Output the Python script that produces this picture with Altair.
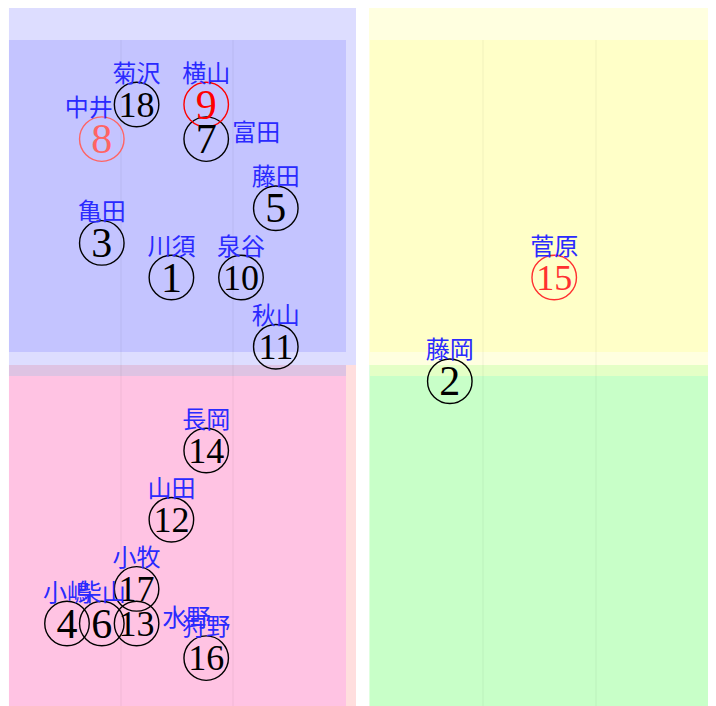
import altair as alt
import pandas as pd

# ---------------- data ----------------
nums = [1, 2, 3, 4, 5, 6, 7, 8, 9, 10, 11, 12, 13, 14, 15, 16, 17, 18]
names = ["川須", "藤岡", "亀田", "小嶋", "藤田", "柴山", "富田", "中井", "横山",
         "泉谷", "秋山", "山田", "水野", "長岡", "菅原", "狩野", "小牧", "菊沢"]
xs = [4, 12, 2, 1, 7, 2, 5, 2, 5, 6, 7, 4, 3, 5, 15, 5, 3, 3]
ys = [13, 10, 14, 3, 15, 3, 17, 17, 18, 13, 11, 6, 3, 8, 13, 2, 4, 18]
# highlight level: 0 normal, 1 red, 2 pale red, 3 medium red
levels = [0, 0, 0, 0, 0, 0, 0, 2, 1, 0, 0, 0, 0, 0, 3, 0, 0, 0]

# quadrant background regions (data units)
region_names = ["blue_light", "yellow_light", "pink_light", "green_light",
                "band_left", "band_right",
                "blue_dark", "yellow_dark", "pink_dark", "green_dark"]
region_x1 = [-0.667, 9.678, -0.667, 9.678, -0.667, 9.707, -0.667, 9.707, -0.667, 9.707]
region_x2 = [9.305, 20.0, 9.305, 20.0, 9.017, 19.419, 9.017, 19.419, 9.017, 19.419]
region_y1 = [21.0, 21.0, 10.471, 10.471, 10.471, 10.471, 19.864, 19.864, 10.153, 10.153]
region_y2 = [10.471, 10.471, 0.0, 0.0, 10.153, 10.153, 10.847, 10.847, 0.0, 0.0]
region_colors = ["#ddddff", "#ffffe0", "#ffdede", "#e0ffe0",
                 "#dec3e3", "#e4ffc6",
                 "#c4c4ff", "#ffffc8", "#ffc3e3", "#c8ffc8"]

grid_x = [2.552, 5.770, 12.954, 16.201]
grid_top = 19.864
grid_bottom = 0.0

right_names = ["富田", "水野"]
upper_left_names = ["中井"]

X_DOM = [-0.695, 19.419]
Y_DOM = [0.616, 20.789]

# ---------------- chart ----------------
xsc = alt.Scale(domain=X_DOM, nice=False, zero=False)
ysc = alt.Scale(domain=Y_DOM, nice=False, zero=False)

regions = pd.DataFrame({"name": region_names, "x": region_x1, "x2": region_x2,
                        "y": region_y1, "y2": region_y2})
rects = alt.Chart(regions).mark_rect(clip=True, strokeWidth=0).encode(
    x=alt.X("x:Q", scale=xsc, axis=None),
    x2="x2:Q",
    y=alt.Y("y:Q", scale=ysc, axis=None),
    y2="y2:Q",
    color=alt.Color("name:N", scale=alt.Scale(domain=region_names, range=region_colors),
                    legend=None),
)

grid_df = pd.DataFrame({"gx": grid_x, "gy": [grid_top] * len(grid_x),
                        "gy2": [grid_bottom] * len(grid_x)})
grid = alt.Chart(grid_df).mark_rule(color="black", opacity=0.06, strokeWidth=1,
                                    clip=True).encode(
    x=alt.X("gx:Q", scale=xsc, axis=None),
    y=alt.Y("gy:Q", scale=ysc, axis=None),
    y2="gy2:Q",
)

pts = pd.DataFrame({"num": nums, "name": names, "x": xs, "y": ys, "level": levels})
base = alt.Chart(pts).encode(
    x=alt.X("x:Q", scale=xsc, axis=None),
    y=alt.Y("y:Q", scale=ysc, axis=None),
)
level_color = alt.Color("level:N",
                        scale=alt.Scale(domain=[0, 1, 2, 3],
                                        range=["#000000", "#ff0000", "#ff6464", "#ff3030"]),
                        legend=None)

circles = base.mark_point(shape="circle", filled=False, size=1980, strokeWidth=1.4,
                          opacity=1).encode(color=level_color)

digits = base.transform_calculate(
    d="toString(datum.num)",
    big="datum.num < 10 ? 'one' : 'two'",
).mark_text(font="Liberation Serif", baseline="middle", align="center", dy=1).encode(
    text="d:N",
    color=level_color,
    size=alt.Size("big:N", scale=alt.Scale(domain=["one", "two"], range=[42, 36]),
                  legend=None),
)

label_style = dict(font="Noto Sans CJK JP", fontSize=24, color="#2a2aff", baseline="middle")

special = right_names + upper_left_names
top_labels = base.transform_filter(
    "indexof([" + ",".join("'%s'" % n for n in special) + "], datum.name) < 0"
).mark_text(align="center", dy=-30, **label_style).encode(text="name:N")

right_labels = base.transform_filter(
    alt.FieldOneOfPredicate(field="name", oneOf=right_names)
).mark_text(align="left", dx=26, dy=-5, **label_style).encode(text="name:N")

ul_labels = base.transform_filter(
    alt.FieldOneOfPredicate(field="name", oneOf=upper_left_names)
).mark_text(align="center", dx=-13, dy=-30, **label_style).encode(text="name:N")

chart = alt.layer(
    rects, grid, circles, digits, top_labels, right_labels, ul_labels
).resolve_scale(color="independent", size="independent").properties(
    width=700, height=698, padding=0,
    autosize=alt.AutoSizeParams(type="none"),
).configure_view(stroke=None)

chart.save("out.html", embed_options={"renderer": "svg", "actions": False})
